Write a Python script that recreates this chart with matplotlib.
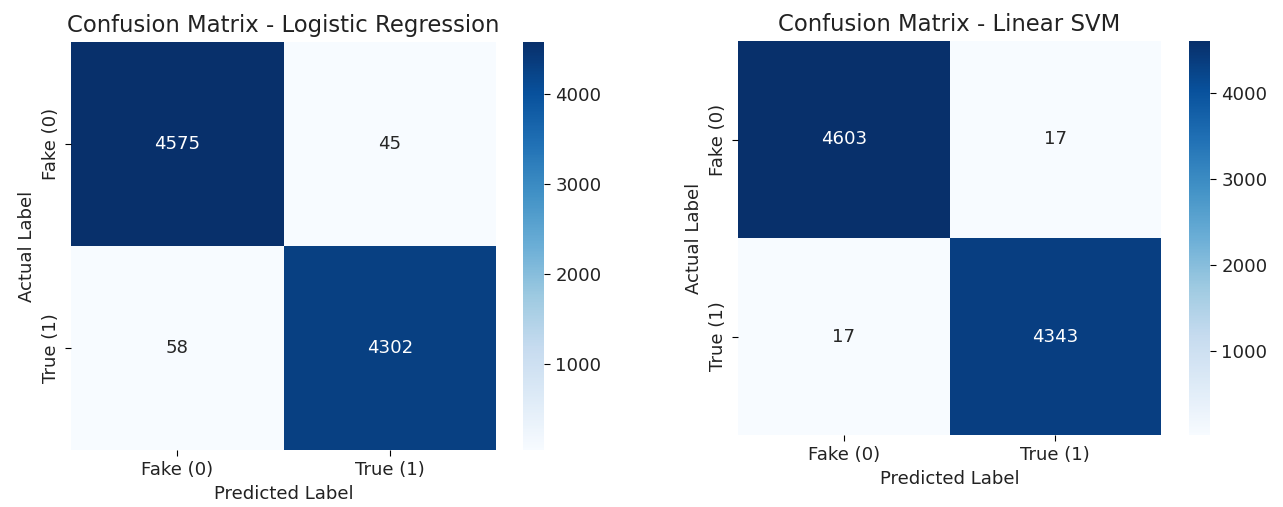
import matplotlib
matplotlib.use('Agg')
import matplotlib.pyplot as plt
import seaborn as sns
import numpy as np

# confusion matrices
class_labels = ['Fake (0)', 'True (1)']
cm_logreg = np.array([[4575, 45],
                      [58, 4302]])
cm_svm = np.array([[4603, 17],
                   [17, 4343]])
titles = ['Confusion Matrix - Logistic Regression', 'Confusion Matrix - Linear SVM']

S = 1.31  # font scale for dpi 100 canvas
plt.rcParams.update({'font.family': 'DejaVu Sans', 'text.color': '#222222',
                     'xtick.labelcolor': '#222222', 'ytick.labelcolor': '#222222',
                     'axes.labelcolor': '#222222'})

W, H = 1283, 507
fig = plt.figure(figsize=(W / 100, H / 100), dpi=100)


def box(x0, y0, x1, y1):
    # pixel box -> figure fraction
    return [x0 / W, 1 - y1 / H, (x1 - x0) / W, (y1 - y0) / H]


layout = [
    (box(71, 42, 496, 450), box(523, 42, 544, 450)),
    (box(738, 41, 1161, 435), box(1189, 41, 1210, 435)),
]

for cm, title, (ax_rect, cb_rect) in zip([cm_logreg, cm_svm], titles, layout):
    ax = fig.add_axes(ax_rect)
    cax = fig.add_axes(cb_rect)
    sns.heatmap(cm, annot=True, fmt='d', cmap='Blues', ax=ax, cbar_ax=cax,
                xticklabels=class_labels, yticklabels=class_labels,
                annot_kws={'fontsize': 10 * S})
    ax.set_title(title, fontsize=12.5 * S, pad=7)
    ax.set_xlabel('Predicted Label', fontsize=10 * S)
    ax.set_ylabel('Actual Label', fontsize=10 * S)
    ax.tick_params(labelsize=10 * S, length=3.5 * S)
    plt.setp(ax.get_yticklabels(), rotation=90, va='center')
    cax.tick_params(labelsize=10 * S, length=3.5 * S)
    cax.set_yticks([1000, 2000, 3000, 4000])

fig.savefig('out.png', dpi=100)
